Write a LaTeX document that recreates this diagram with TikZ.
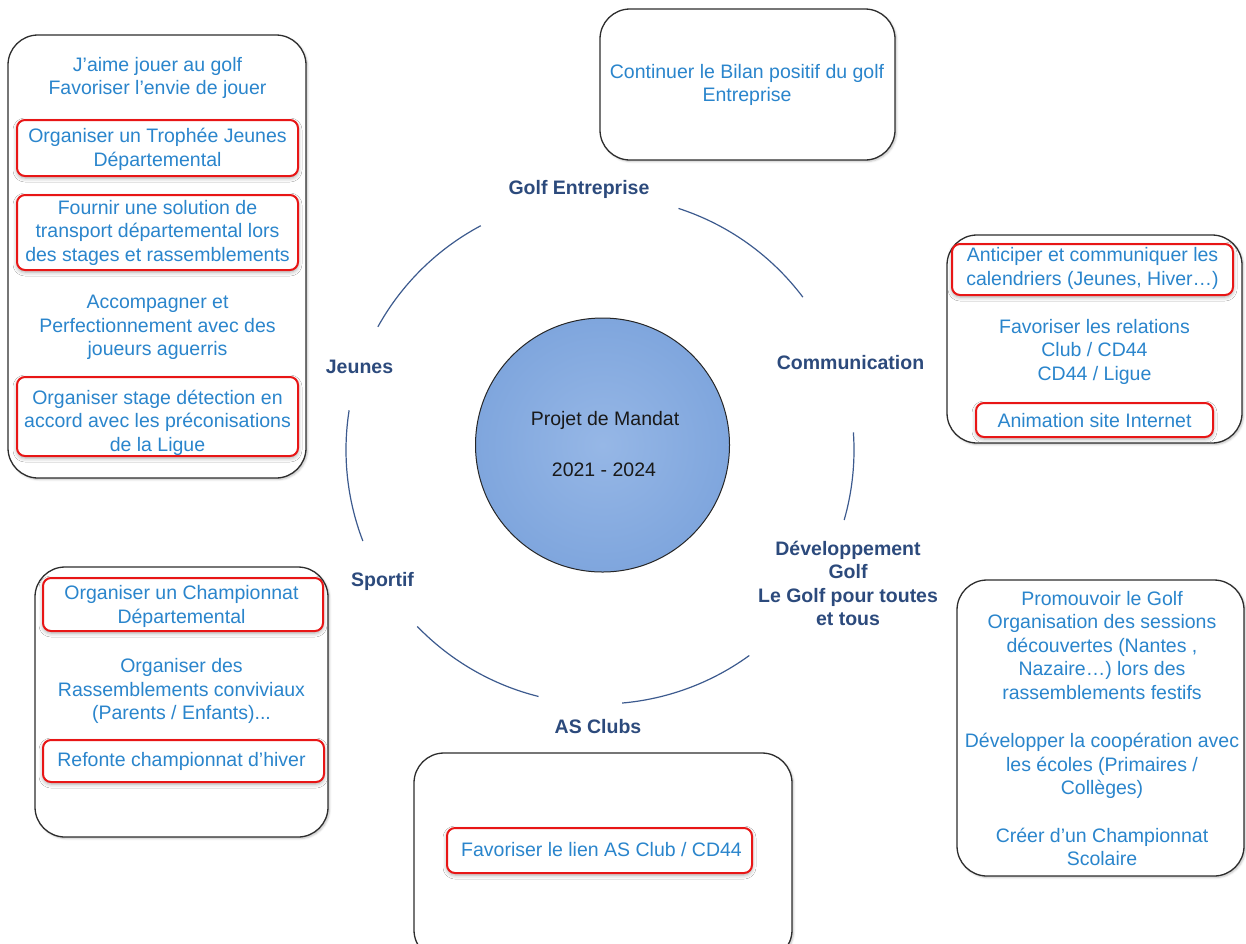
\documentclass[tikz,border=0pt]{standalone}
\usepackage{fontspec}
\setmainfont{Liberation Sans}
\usetikzlibrary{shapes.geometric,shadows.blur}
\definecolor{textblue}{RGB}{42,133,204}
\definecolor{lblnavy}{RGB}{44,74,124}
\definecolor{arcnavy}{RGB}{60,90,142}
\definecolor{boxline}{RGB}{45,45,45}
\definecolor{redline}{RGB}{232,22,22}
\definecolor{ballin}{RGB}{150,183,230}
\definecolor{ballout}{RGB}{106,150,213}
\pgfdeclareradialshading{mandatball}{\pgfpoint{0bp}{0bp}}{color(0bp)=(ballin); color(48bp)=(ballout); color(70bp)=(ballout)}
\begin{document}
\begin{tikzpicture}[x=1pt,y=-1pt,
  bigbox/.style={draw=boxline, line width=1.3pt, rounded corners=30pt, fill=white, inner sep=0pt,
    blur shadow={shadow xshift=1.5pt, shadow yshift=-1.5pt, shadow blur radius=2pt, shadow opacity=25}},
  redbox/.style={draw=redline, line width=2pt, rounded corners=8pt, fill=white, inner sep=0pt,
    blur shadow={shadow xshift=0pt, shadow yshift=-2pt, shadow blur radius=4pt, shadow opacity=35}},
  txt/.style={text=textblue, align=center, inner sep=0pt, font=\fontsize{19.5}{23.5}\selectfont},
  lbl/.style={text=lblnavy, align=center, inner sep=0pt, font=\fontsize{19.5}{23.5}\selectfont\bfseries},
  ctext/.style={text=black!90, align=center, inner sep=0pt, font=\fontsize{19.5}{23.5}\selectfont},
  ring/.style={draw=arcnavy, line width=1.2pt}]
\useasboundingbox (0,0) rectangle (1246,943);
\clip (0,0) rectangle (1246,943);

% ring arcs
\begin{scope}[shift={(600,450)}, y=1pt]
  \draw[ring] (118:254pt) arc[start angle=118, end angle=151, radius=254pt];
  \draw[ring] (37:254pt) arc[start angle=37, end angle=72, radius=254pt];
  \draw[ring] (-16:254pt) arc[start angle=-16, end angle=4, radius=254pt];
  \draw[ring] (171:254pt) arc[start angle=171, end angle=201, radius=254pt];
  \draw[ring] (224:254pt) arc[start angle=224, end angle=256, radius=254pt];
  \draw[ring] (275:254pt) arc[start angle=275, end angle=306, radius=254pt];
\end{scope}

% centre
\node[circle, draw=black!85, line width=1pt, shading=mandatball, minimum size=254pt, inner sep=0pt] (mandat) at (602.5,445) {};
\node[ctext] (mandat1) at (605,420) {Projet de Mandat};
\node[ctext] (mandat2) at (604,470) {2021 - 2024};

% labels
\node[lbl] (lGE) at (579,189) {Golf Entreprise};
\node[lbl] (lJ) at (359.5,367) {Jeunes};
\node[lbl] (lC) at (850.5,363) {Communication};
\node[lbl] (lD) at (848,583.5) {Développement\\Golf\\Le Golf pour toutes\\et tous};
\node[lbl] (lS) at (382.5,581) {Sportif};
\node[lbl] (lA) at (598,727) {AS Clubs};

% big boxes
\node[bigbox, minimum width=298pt, minimum height=443pt] (jbox) at (157,256.5) {};
\node[bigbox, minimum width=295pt, minimum height=151pt] (gbox) at (747.5,84.5) {};
\node[bigbox, minimum width=295pt, minimum height=208pt] (cbox) at (1094.5,339) {};
\node[bigbox, minimum width=293pt, minimum height=270pt] (sbox) at (181.5,702) {};
\node[bigbox, minimum width=287pt, minimum height=296pt] (dbox) at (1100.5,728) {};
\node[bigbox, minimum width=378pt, minimum height=207pt] (abox) at (603,856.5) {};

% red boxes
\node[redbox, minimum width=281pt, minimum height=56pt] (jr1) at (157.5,148) {};
\node[redbox, minimum width=281pt, minimum height=75pt] (jr2) at (157.5,232.5) {};
\node[redbox, minimum width=281pt, minimum height=79pt] (jr3) at (157.5,416.5) {};
\node[redbox, minimum width=281pt, minimum height=51pt] (cr1) at (1092.5,269.5) {};
\node[redbox, minimum width=237pt, minimum height=34pt] (cr2) at (1094.5,420) {};
\node[redbox, minimum width=280pt, minimum height=53pt] (sr1) at (183,604.5) {};
\node[redbox, minimum width=281pt, minimum height=42pt] (sr2) at (183.5,761) {};
\node[redbox, minimum width=305pt, minimum height=45pt] (ar1) at (599.5,850.5) {};

% texts: Jeunes
\node[txt] (j1) at (157.5,78) {J’aime jouer au golf\\Favoriser l’envie de jouer};
\node[txt] (j2) at (157.5,149.5) {Organiser un Trophée Jeunes\\Départemental};
\node[txt] (j3) at (157.5,232.5) {Fournir une solution de\\transport départemental lors\\des stages et rassemblements};
\node[txt] (j4) at (157.5,327.5) {Accompagner et\\Perfectionnement avec des\\joueurs aguerris};
\node[txt] (j5) at (157.5,422.5) {Organiser stage détection en\\accord avec les préconisations\\de la Ligue};

% Golf Entreprise
\node[txt] (g1) at (747,85) {Continuer le Bilan positif du golf\\Entreprise};

% Communication
\node[txt] (c1) at (1092.5,268.5) {Anticiper et communiquer les\\calendriers (Jeunes, Hiver…)};
\node[txt] (c2) at (1094.5,351.5) {Favoriser les relations\\Club / CD44\\CD44 / Ligue};
\node[txt] (c3) at (1094.5,421) {Animation site Internet};

% Sportif
\node[txt] (s1) at (181.5,606.5) {Organiser un Championnat\\Départemental};
\node[txt] (s2) at (181.5,691) {Organiser des\\Rassemblements conviviaux\\(Parents / Enfants)...};
\node[txt] (s3) at (181.5,761) {Refonte championnat d’hiver};

% Developpement
\node[txt] (d1) at (1102,645.5) {Promouvoir le Golf\\Organisation des sessions\\découvertes (Nantes ,\\Nazaire…) lors des\\rassemblements festifs};
\node[txt] (d2) at (1102,766) {Développer la coopération avec\\les écoles (Primaires /\\Collèges)};
\node[txt] (d3) at (1102,847) {Créer d’un Championnat\\Scolaire};

% AS Clubs
\node[txt] (a1) at (601.5,850) {Favoriser le lien AS Club / CD44};
\end{tikzpicture}
\end{document}
